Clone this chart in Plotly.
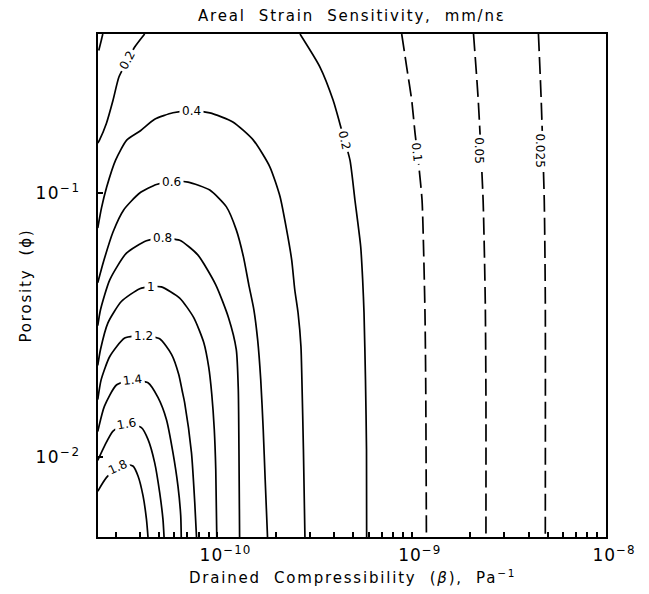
import math
import plotly.graph_objects as go

# Levels of areal strain sensitivity (mm/nε), each traced as pairs of
# drained compressibility β (Pa^-1) and porosity φ.
beta_0025 = [4.49e-9, 4.64e-9, 4.81e-9, 4.87e-9, 4.87e-9]
phi_0025 = [0.4, 0.2245, 0.0942, 0.0395, 0.005]

beta_005 = [2.08e-9, 2.20e-9, 2.33e-9, 2.39e-9, 2.41e-9, 2.41e-9]
phi_005 = [0.4, 0.2245, 0.0942, 0.0395, 0.01656, 0.005]

beta_01 = [8.88e-10, 9.42e-10, 1.00e-9, 1.04e-9, 1.08e-9, 1.13e-9, 1.15e-9, 1.17e-9, 1.18e-9, 1.19e-9]
phi_01 = [0.4, 0.300, 0.2245, 0.1686, 0.1333, 0.0942, 0.0628, 0.0353, 0.0197, 0.005]

beta_01_corner = [2.57e-11, 2.42e-11]
phi_01_corner = [0.4, 0.335]

beta_02 = [2.66e-10, 3.37e-10, 3.94e-10, 4.36e-10, 4.81e-10, 5.10e-10, 5.46e-10, 5.59e-10,
           5.68e-10, 5.78e-10, 5.85e-10, 5.86e-10]
phi_02 = [0.4, 0.300, 0.2245, 0.1730, 0.1333, 0.0942, 0.0628, 0.0470, 0.0353, 0.0197, 0.01073, 0.005]

beta_02_upper = [4.22e-11, 3.75e-11, 3.45e-11, 3.11e-11, 2.90e-11, 2.68e-11, 2.47e-11, 2.42e-11]
phi_02_upper = [0.4, 0.357, 0.318, 0.275, 0.2245, 0.1834, 0.1587, 0.1546]

beta_04 = [2.42e-11, 2.53e-11, 2.69e-11, 2.99e-11, 3.41e-11, 3.98e-11, 4.75e-11, 5.90e-11, 7.35e-11,
           9.13e-11, 1.20e-10, 1.53e-10, 1.86e-10, 2.10e-10, 2.27e-10, 2.41e-10, 2.50e-10, 2.60e-10,
           2.69e-10, 2.72e-10, 2.77e-10, 2.82e-10]
phi_04 = [0.0738, 0.0879, 0.1054, 0.1333, 0.1587, 0.1715, 0.1904, 0.2015, 0.2047, 0.2011, 0.1859,
          0.1587, 0.1258, 0.0969, 0.0726, 0.0559, 0.0431, 0.0352, 0.0263, 0.0197, 0.01073, 0.005]

beta_06 = [2.42e-11, 2.59e-11, 2.90e-11, 3.29e-11, 3.98e-11, 4.85e-11, 5.81e-11, 7.06e-11, 9.13e-11,
           1.11e-10, 1.25e-10, 1.36e-10, 1.45e-10, 1.54e-10, 1.61e-10, 1.67e-10, 1.72e-10, 1.76e-10,
           1.81e-10]
phi_06 = [0.0458, 0.0550, 0.0713, 0.0864, 0.1001, 0.1078, 0.1106, 0.1101, 0.1027, 0.0889, 0.0726,
          0.0575, 0.0450, 0.0362, 0.0279, 0.0197, 0.01276, 0.00827, 0.005]

beta_08 = [2.42e-11, 2.50e-11, 2.79e-11, 3.40e-11, 4.31e-11, 5.22e-11, 6.39e-11, 7.92e-11, 9.80e-11,
           1.14e-10, 1.25e-10, 1.28e-10, 1.29e-10, 1.30e-10]
phi_08 = [0.0315, 0.0362, 0.0470, 0.0593, 0.0660, 0.0674, 0.0663, 0.0584, 0.0450, 0.0338, 0.0256,
          0.0181, 0.01073, 0.005]

beta_10 = [2.42e-11, 2.50e-11, 2.73e-11, 3.20e-11, 3.98e-11, 4.53e-11, 5.14e-11, 6.39e-11, 7.55e-11,
           8.50e-11, 9.02e-11, 9.35e-11, 9.63e-11, 9.80e-11, 9.92e-11]
phi_10 = [0.0223, 0.0256, 0.0323, 0.0389, 0.0435, 0.0442, 0.0442, 0.0401, 0.0338, 0.0272, 0.0219,
          0.0173, 0.01276, 0.00902, 0.005]

beta_12 = [2.42e-11, 2.52e-11, 2.79e-11, 3.33e-11, 4.14e-11, 5.04e-11, 5.81e-11, 6.32e-11, 6.59e-11,
           6.78e-11, 7.35e-11, 7.64e-11, 7.80e-11]
phi_12 = [0.01656, 0.0197, 0.0241, 0.0283, 0.0289, 0.0281, 0.0245, 0.0206, 0.0178, 0.0161, 0.0104,
          0.00675, 0.005]

beta_14 = [2.42e-11, 2.62e-11, 3.02e-11, 3.64e-11, 4.39e-11, 4.94e-11, 5.46e-11, 5.90e-11, 6.26e-11,
           6.47e-11, 6.51e-11]
phi_14 = [0.01254, 0.01563, 0.01879, 0.0196, 0.01916, 0.01686, 0.01392, 0.01042, 0.0078, 0.00601, 0.005]

beta_16 = [2.42e-11, 2.62e-11, 2.90e-11, 3.40e-11, 4.06e-11, 4.39e-11, 4.75e-11, 5.04e-11, 5.24e-11,
           5.31e-11]
phi_16 = [0.00975, 0.01104, 0.01258, 0.01339, 0.01296, 0.0117, 0.00956, 0.00737, 0.00584, 0.005]

beta_18 = [2.42e-11, 2.68e-11, 3.14e-11, 3.45e-11, 3.67e-11, 3.90e-11, 4.14e-11, 4.31e-11, 4.39e-11]
phi_18 = [0.00745, 0.00839, 0.00926, 0.00938, 0.00928, 0.00851, 0.00715, 0.00584, 0.005]

# Inline level labels and where they sit on their lines
label_text = ["0.025", "0.05", "0.1", "0.2", "0.2", "0.4", "0.6", "0.8", "1", "1.2", "1.4", "1.6", "1.8"]
label_beta = [4.56e-9, 2.22e-9, 1.065e-9, 4.50e-10, 3.45e-11, 7.35e-11, 5.81e-11, 5.22e-11, 4.53e-11,
              4.14e-11, 3.64e-11, 3.40e-11, 3.07e-11]
label_phi = [0.1454, 0.1454, 0.1436, 0.1587, 0.318, 0.2047, 0.1106, 0.0674, 0.0442, 0.0289, 0.0196,
             0.0134, 0.00923]

# Axis ranges and tick labels
beta_range = [2.427e-11, 1e-8]
phi_range = [0.005, 0.4]
beta_ticks = [1e-10, 1e-9, 1e-8]
beta_ticktext = ["10<sup>−10</sup>", "10<sup>−9</sup>", "10<sup>−8</sup>"]
phi_ticks = [1e-2, 1e-1]
phi_ticktext = ["10<sup>−2</sup>", "10<sup>−1</sup>"]

FONT = "DejaVu Sans"
solid = [(beta_02, phi_02), (beta_02_upper, phi_02_upper), (beta_04, phi_04), (beta_06, phi_06),
         (beta_08, phi_08), (beta_10, phi_10), (beta_12, phi_12), (beta_14, phi_14),
         (beta_16, phi_16), (beta_18, phi_18)]
dashed = [(beta_0025, phi_0025), (beta_005, phi_005), (beta_01, phi_01), (beta_01_corner, phi_01_corner)]

fig = go.Figure()
for xs, ys in solid:
    fig.add_trace(go.Scatter(x=xs, y=ys, mode="lines",
                             line=dict(color="black", width=1.7, shape="spline", smoothing=0.6),
                             hoverinfo="skip", showlegend=False))
for xs, ys in dashed:
    fig.add_trace(go.Scatter(x=xs, y=ys, mode="lines",
                             line=dict(color="black", width=1.7, dash="17px,6px", shape="spline",
                                       smoothing=0.6),
                             hoverinfo="skip", showlegend=False))

label_angles = [90, 90, 84, 78, -62, 0, 0, 0, 0, 0, -7, -10, -25]
for txt, b, p, ang in zip(label_text, label_beta, label_phi, label_angles):
    fig.add_annotation(x=math.log10(b), y=math.log10(p), xref="x", yref="y", text=txt,
                       showarrow=False, textangle=ang, bgcolor="white", borderpad=2,
                       font=dict(family=FONT, size=12, color="black"))


def minor_vals(lo, hi):
    vals = []
    for e in range(-12, -7):
        for m in range(2, 10):
            v = m * 10.0 ** e
            if lo < v < hi:
                vals.append(v)
    return vals


axis_common = dict(type="log", showline=True, mirror=True, linecolor="black", linewidth=2,
                   ticks="inside", ticklen=5, tickwidth=1.5, tickcolor="black", showgrid=False,
                   zeroline=False, tickmode="array",
                   tickfont=dict(family=FONT, size=17, color="black"))

fig.update_xaxes(range=[math.log10(v) for v in beta_range], tickvals=beta_ticks,
                 ticktext=[f'<span style="letter-spacing:1px">{t}</span>' for t in beta_ticktext],
                 ticklabelshift=8, ticklabelstandoff=2,
                 minor=dict(tickmode="array", tickvals=minor_vals(*beta_range), ticks="inside",
                            ticklen=5, tickwidth=1.5, tickcolor="black", showgrid=False),
                 **axis_common)
fig.update_yaxes(range=[math.log10(v) for v in phi_range], tickvals=phi_ticks,
                 ticktext=[f'<span style="letter-spacing:1.5px">{t}</span>' for t in phi_ticktext],
                 ticklabelstandoff=12,
                 minor=dict(tickmode="array", tickvals=minor_vals(*phi_range), ticks="inside",
                            ticklen=6, tickwidth=1.5, tickcolor="black", showgrid=False),
                 **axis_common)

title_font = dict(family=FONT, size=15, color="black")
fig.add_annotation(xref="paper", yref="paper", x=0.5, y=1, yanchor="middle", yshift=18,
                   showarrow=False, font=title_font,
                   text='<span style="letter-spacing:1.8px">Areal  Strain  Sensitivity,  mm/nε</span>')
fig.add_annotation(xref="paper", yref="paper", x=0.5, y=0, yanchor="middle", yshift=-40,
                   showarrow=False, font=title_font,
                   text='<span style="letter-spacing:1.8px">Drained  Compressibility  (<i>β</i>),  '
                        'Pa<sup>−1</sup></span>')
fig.add_annotation(xref="paper", yref="paper", x=0, xanchor="center", xshift=-73, y=0.5,
                   showarrow=False, font=title_font, textangle=-90,
                   text='<span style="letter-spacing:1.8px">Porosity  (ϕ)</span>')

fig.update_layout(width=649, height=594, margin=dict(l=98, r=43, t=34, b=57),
                  paper_bgcolor="white", plot_bgcolor="white")

fig.write_html("out.html")
